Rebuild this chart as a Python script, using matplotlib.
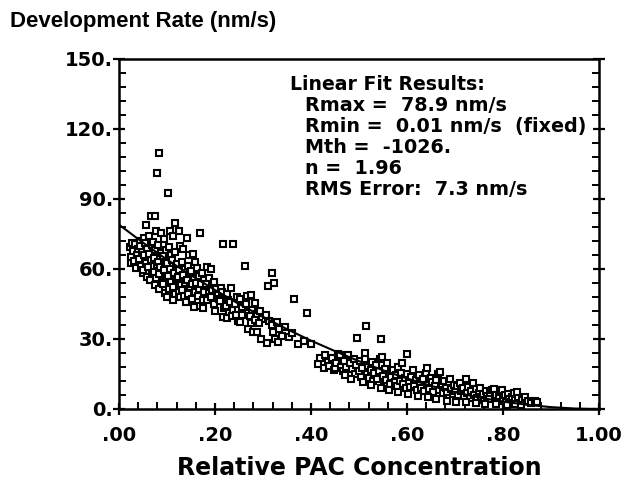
import matplotlib.pyplot as plt

plt.rcParams['font.family'] = ['DejaVu Sans']
plt.rcParams['font.weight'] = 'bold'

# measured development rates (nm/s) vs relative PAC concentration
pac = [
    .022, .026, .024, .029, .028, .033, .037, .031, .036, .039,
    .043, .047, .041, .046, .049, .044, .056, .052, .058, .053,
    .057, .051, .059, .054, .066, .062, .068, .063, .067, .061,
    .069, .064, .074, .078, .071, .076, .073, .079, .072, .077,
    .075, .083, .079, .087, .082, .088, .081, .086, .084, .089,
    .083, .093, .097, .091, .096, .094, .098, .092, .095, .102,
    .107, .104, .109, .101, .106, .103, .108, .105, .101, .117,
    .113, .116, .111, .118, .114, .119, .112, .116, .113, .124,
    .128, .121, .126, .122, .129, .125, .127, .134, .131, .137,
    .133, .138, .132, .136, .139, .142, .146, .144, .148, .141,
    .147, .143, .154, .158, .151, .156, .153, .159, .152, .157,
    .169, .163, .167, .161, .166, .164, .168, .173, .177, .171,
    .178, .174, .176, .183, .187, .182, .188, .184, .192, .197,
    .194, .191, .198,
    .203, .206, .208, .201, .217, .213, .215, .211, .218, .216,
    .224, .227, .222, .229, .225, .237, .234, .232, .238, .235,
    .246, .242, .248, .244, .247, .253, .257, .256, .252, .262,
    .266, .264, .268, .269, .274, .277, .272, .276, .279, .283,
    .287, .284, .287, .294, .297, .292, .296, .310, .306, .312,
    .308, .319, .323, .318, .321, .325, .329, .333, .331, .345,
    .354, .365, .373, .385, .392, .400, .360, .340,
    .415, .419, .427, .429, .435, .438, .443, .447, .450, .452,
    .456, .460, .462, .466, .469, .473, .477, .479, .482, .486,
    .489, .492, .494, .496, .499, .502, .505, .507, .512, .515,
    .513, .516, .519, .521, .524, .527, .529, .532, .535, .537,
    .541, .543, .546, .548, .549, .552, .554, .557, .559, .562,
    .565, .567, .571, .574, .577, .579, .582, .585, .588, .590,
    .592, .595, .598, .600, .601, .604, .607, .609, .612, .615,
    .618, .621, .624, .627, .629, .633, .636, .639, .642, .643,
    .646, .649, .652, .655, .658, .661, .664, .667, .669, .672,
    .675, .678, .681, .684, .687, .690, .692, .695, .698, .701,
    .704, .707, .710, .713, .716, .719, .723, .725, .728, .731,
    .734, .738, .740, .743, .746, .749, .752, .755, .758, .761,
    .764, .767, .770, .773, .777, .781, .783, .786, .789, .792,
    .795, .798, .801, .804, .807, .810, .813, .816, .819, .822,
    .826, .829, .832, .836, .840, .845, .852, .858, .867, .870,
    .470, .484, .508, .526, .545, .563, .581, .602, .623, .644,
    .661, .683, .703, .722, .744, .763, .786, .808, .824, .838,
]
rate = [
    69.3, 65.1, 62.4, 67.8, 71.0, 70.6, 66.2, 63.5, 60.4, 68.7,
    72.1, 67.4, 64.3, 61.2, 58.1, 69.9, 78.9, 73.4, 69.2, 65.8,
    62.7, 59.6, 56.5, 71.3, 82.5, 74.1, 70.3, 66.4, 63.9, 60.8,
    57.7, 55.2, 82.5, 76.3, 71.6, 68.1, 64.6, 61.9, 58.8, 56.0,
    53.1, 109.5, 101.0, 75.4, 70.2, 67.0, 63.2, 60.7, 57.9, 54.6,
    51.5, 72.8, 68.3, 65.5, 62.1, 59.4, 56.3, 53.5, 49.8, 92.5,
    76.3, 69.4, 65.9, 62.6, 60.1, 57.2, 54.4, 51.3, 48.2, 79.5,
    74.2, 67.3, 64.0, 61.4, 58.3, 55.6, 52.2, 49.5, 46.8, 76.1,
    69.8, 62.2, 59.5, 56.7, 53.3, 50.2, 47.9, 68.4, 63.0, 60.2,
    57.6, 54.1, 51.0, 48.4, 45.7, 73.3, 65.8, 61.1, 58.4, 55.5,
    52.3, 49.2, 66.4, 63.0, 59.3, 56.2, 53.4, 50.1, 47.3, 43.7,
    75.4, 60.3, 57.0, 54.2, 51.4, 48.6, 44.1, 58.2, 55.3, 53.6,
    50.2, 46.7, 43.3, 61.0, 56.1, 53.6, 49.9, 46.9, 60.0, 54.3,
    51.2, 48.1, 45.0,
    51.4, 48.8, 47.1, 42.2, 70.7, 51.9, 50.0, 46.2, 43.3, 39.4,
    49.3, 46.6, 44.0, 41.2, 39.0, 70.7, 51.9, 45.9, 42.6, 39.8,
    48.2, 45.1, 42.4, 40.1, 37.7, 47.0, 43.8, 40.3, 37.1, 61.5,
    48.4, 45.2, 41.2, 34.3, 48.9, 42.4, 39.7, 36.8, 33.2, 45.3,
    40.9, 38.1, 33.0, 42.2, 38.6, 36.7, 30.2, 52.7, 40.3, 37.8,
    28.3, 58.3, 54.0, 35.9, 33.0, 30.1, 37.3, 34.2, 28.7, 35.1,
    30.9, 47.1, 27.9, 29.1, 41.1, 27.9, 32.5, 31.5,
    19.3, 21.8, 17.6, 23.1, 20.1, 18.4, 21.9, 16.8, 17.6, 19.7,
    23.4, 23.1, 18.2, 16.1, 20.6, 17.9, 23.1, 15.4, 19.8, 17.0,
    21.6, 14.9, 18.8, 30.4, 16.3, 20.4, 13.8, 17.4, 24.0, 35.6,
    21.3, 15.2, 18.6, 13.1, 16.7, 20.2, 11.9, 15.3, 18.9, 13.0,
    16.2, 21.6, 30.0, 22.3, 14.1, 11.2, 17.3, 12.6, 19.6, 15.0,
    10.8, 13.7, 16.9, 11.4, 14.5, 9.8, 17.8, 12.2, 15.6, 19.7,
    10.6, 13.1, 8.9, 23.6, 15.2, 11.7, 9.4, 13.9, 16.8, 10.2,
    12.5, 8.3, 14.6, 11.0, 9.1, 12.7, 7.8, 15.4, 17.6, 10.3,
    8.6, 13.2, 11.4, 7.2, 9.9, 12.3, 14.9, 8.1, 15.9, 10.6,
    6.9, 12.1, 9.2, 7.4, 11.6, 12.9, 8.5, 6.3, 10.2, 7.9,
    9.7, 5.9, 11.1, 7.6, 8.8, 5.4, 12.9, 6.8, 9.5, 4.9,
    7.7, 11.1, 6.1, 8.4, 4.6, 7.0, 9.1, 5.2, 6.6, 3.9,
    7.9, 5.6, 4.2, 6.9, 8.2, 8.6, 4.8, 6.2, 3.5, 5.7,
    7.1, 8.1, 4.1, 5.9, 3.2, 6.6, 4.5, 2.9, 5.3, 7.0,
    3.8, 7.3, 4.6, 2.7, 3.9, 5.1, 3.4, 2.6, 3.4, 3.2,
    14.6, 12.8, 11.5, 10.4, 9.2, 8.3, 7.1, 6.4, 5.6, 5.0,
    4.3, 3.6, 3.1, 2.8, 2.4, 2.2, 2.0, 1.9, 2.1, 1.8,
]

# fitted curve
fit_pac = [0.0, 0.05, 0.1, 0.15, 0.2, 0.25, 0.3, 0.35, 0.4, 0.45, 0.5,
           0.55, 0.6, 0.65, 0.7, 0.75, 0.8, 0.85, 0.9, 0.95, 1.0]
fit_rate = [79.0, 71.3, 64.0, 57.3, 51.0, 45.0, 39.5, 34.2, 29.3, 24.8, 20.5,
            16.6, 13.1, 9.9, 7.2, 4.9, 3.2, 1.8, 0.8, 0.2, 0.01]

xticks = [0, .2, .4, .6, .8, 1.0]
xtick_labels = ['.00', '.20', '.40', '.60', '.80', '1.00']
yticks = [0, 30, 60, 90, 120, 150]
ytick_labels = ['0.', '30.', '60.', '90.', '120.', '150.']

fit_title = "Linear Fit Results:"
fit_lines = ["Rmax =  78.9 nm/s",
             "Rmin =  0.01 nm/s  (fixed)",
             "Mth =  -1026.",
             "n =  1.96",
             "RMS Error:  7.3 nm/s"]

fig = plt.figure(figsize=(6.31, 4.79), dpi=100)
ax = fig.add_axes([119 / 631, 70 / 479, 480 / 631, 350 / 479])

ax.plot(pac, rate, 's', ms=4.6, mfc='white', mec='black', mew=1.5, ls='none')
ax.plot(fit_pac, fit_rate, '-', color='black', lw=1.5)

ax.set_xlim(0, 1)
ax.set_ylim(0, 150)
ax.set_xticks(xticks)
ax.set_xticklabels(xtick_labels)
ax.set_xticks([i * 0.04 for i in range(26)], minor=True)
ax.set_yticks(yticks)
ax.set_yticklabels(ytick_labels)
ax.set_yticks(list(range(0, 151, 6)), minor=True)

ax.tick_params(which='major', direction='inout', length=9, width=1.6,
               labelsize=14, right=True, top=False)
ax.tick_params(which='minor', direction='in', length=5, width=1.4,
               right=True, top=False)
ax.tick_params(axis='x', which='major', pad=8)
ax.tick_params(axis='y', which='major', pad=0)
for s in ax.spines.values():
    s.set_linewidth(1.8)

ax.text(0.356, 0.926, fit_title, transform=ax.transAxes,
        fontsize=13.6, fontweight='bold', va='center', ha='left')
for i, t in enumerate(fit_lines):
    ax.text(0.388, 0.868 - i * 0.06, t, transform=ax.transAxes,
            fontsize=13.8, fontweight='bold', va='center', ha='left')

ax.set_xlabel('Relative PAC Concentration', fontsize=17, fontweight='bold', labelpad=8)
fig.text(10 / 631, 1 - 22 / 479, 'Development Rate (nm/s)', fontsize=16,
         family=['Liberation Sans', 'DejaVu Sans'],
         fontweight='bold', va='center', ha='left')

fig.savefig('out.png', dpi=100)
